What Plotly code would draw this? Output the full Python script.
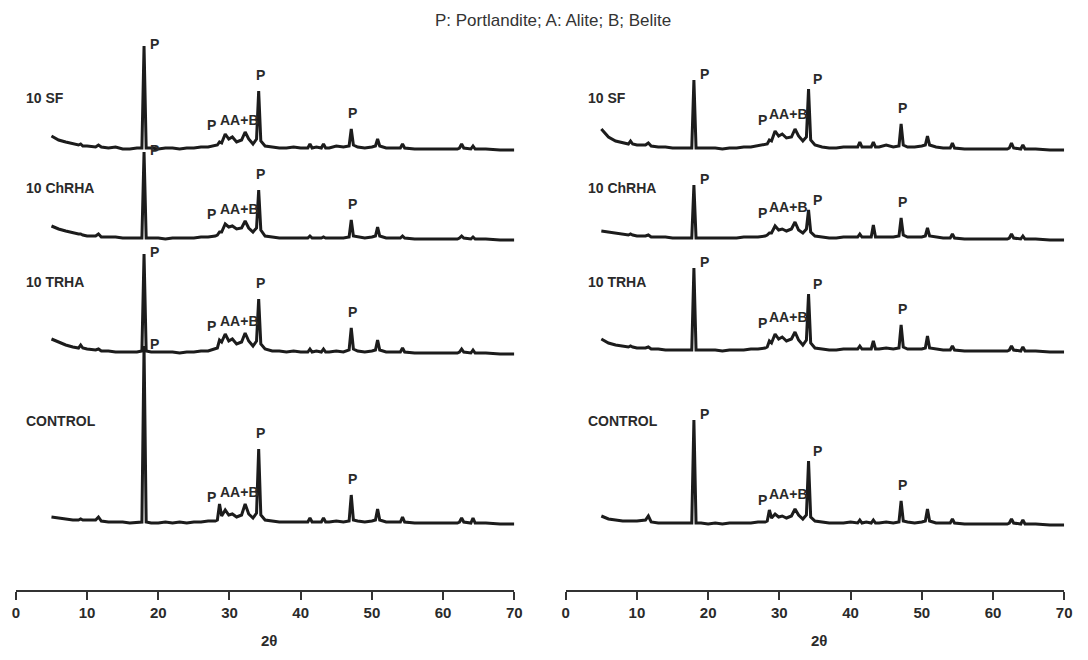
import plotly.graph_objects as go

# ---------------- data (2θ grid shared by all patterns) ----------------
TWO_THETA = [
    5.0, 6.0, 7.0, 8.0, 8.8, 9.1, 9.4, 10.0, 11.2, 11.6,
    12.0, 13.0, 14.0, 15.0, 16.0, 17.0, 17.7, 18.0, 18.3, 19.0,
    20.0, 21.0, 22.0, 23.0, 24.0, 25.0, 26.0, 27.0, 28.0, 28.3,
    28.6, 28.9, 29.4, 29.9, 30.4, 31.0, 31.7, 32.2, 32.7, 33.3,
    33.8, 34.1, 34.4, 35.0, 36.0, 37.0, 38.0, 39.0, 40.0, 41.0,
    41.3, 41.6, 42.2, 42.9, 43.2, 43.5, 44.0, 45.0, 46.0, 46.8,
    47.1, 47.4, 48.0, 49.0, 50.0, 50.5, 50.8, 51.1, 52.0, 53.0,
    54.0, 54.3, 54.6, 56.0, 58.0, 60.0, 62.0, 62.3, 62.6, 62.9,
    63.9, 64.2, 64.5, 66.0, 68.0, 70.0,
]

SAMPLES = ["10 SF", "10 ChRHA", "10 TRHA", "CONTROL"]

# left panel intensities (a.u., above each pattern's own baseline)
LEFT_SF = [
    14, 10, 8, 6, 5, 6, 4, 4, 3, 5,
    3, 2, 3, 1, 1, 2, 2, 104, 2, 2,
    1, 2, 2, 1, 2, 2, 3, 3, 4, 5,
    8, 7, 16, 11, 13, 8, 10, 18, 11, 6,
    11, 59, 9, 4, 3, 2, 2, 3, 2, 2,
    6, 2, 3, 2, 6, 2, 2, 4, 3, 4,
    21, 5, 3, 2, 3, 4, 11, 4, 2, 2,
    2, 6, 2, 1, 1, 1, 1, 2, 6, 2,
    1, 4, 1, 1, 0, 0,
]
LEFT_CHRHA = [
    14, 11, 9, 7, 6, 6, 5, 4, 4, 6,
    3, 3, 3, 2, 2, 2, 2, 88, 2, 2,
    2, 1, 2, 2, 2, 2, 3, 3, 4, 5,
    8, 8, 16, 13, 14, 11, 12, 19, 12, 8,
    12, 50, 10, 4, 3, 2, 2, 2, 2, 2,
    4, 2, 2, 2, 3, 2, 2, 2, 2, 3,
    20, 4, 3, 2, 3, 4, 13, 4, 2, 2,
    2, 4, 2, 1, 1, 1, 1, 2, 4, 2,
    1, 3, 1, 1, 0, 0,
]
LEFT_TRHA = [
    15, 12, 9, 7, 6, 9, 6, 5, 4, 5,
    3, 3, 2, 2, 2, 2, 3, 100, 3, 2,
    2, 2, 2, 1, 2, 2, 3, 3, 5, 6,
    14, 12, 20, 13, 15, 10, 12, 21, 13, 8,
    13, 55, 10, 5, 3, 3, 2, 3, 2, 2,
    5, 2, 3, 2, 5, 2, 2, 3, 2, 4,
    26, 5, 3, 2, 3, 4, 14, 4, 2, 2,
    2, 6, 2, 1, 1, 1, 1, 2, 5, 2,
    1, 4, 1, 1, 0, 0,
]
LEFT_CONTROL = [
    7, 6, 5, 4, 4, 5, 4, 4, 4, 7,
    3, 2, 2, 2, 1, 2, 2, 178, 2, 1,
    1, 2, 1, 2, 1, 2, 2, 3, 3, 4,
    20, 8, 14, 9, 10, 7, 9, 20, 10, 6,
    11, 75, 9, 4, 3, 2, 2, 2, 2, 2,
    6, 2, 2, 2, 6, 2, 2, 3, 2, 3,
    29, 4, 3, 2, 3, 4, 15, 4, 2, 2,
    2, 7, 2, 1, 1, 1, 1, 2, 6, 2,
    1, 6, 1, 1, 0, 0,
]

# right panel intensities
RIGHT_SF = [
    21, 13, 9, 7, 6, 9, 6, 5, 5, 7,
    4, 3, 3, 2, 2, 2, 2, 70, 2, 2,
    2, 2, 1, 2, 2, 3, 3, 4, 5, 6,
    10, 9, 19, 14, 16, 12, 13, 21, 14, 9,
    13, 61, 10, 5, 3, 2, 2, 3, 3, 3,
    8, 3, 3, 3, 8, 3, 3, 5, 3, 4,
    26, 5, 3, 3, 4, 5, 14, 5, 3, 2,
    2, 7, 2, 1, 1, 1, 1, 2, 7, 2,
    1, 5, 1, 1, 0, 0,
]
RIGHT_CHRHA = [
    9, 8, 7, 6, 5, 6, 5, 4, 4, 5,
    3, 3, 3, 2, 2, 2, 2, 55, 2, 2,
    2, 2, 2, 2, 2, 3, 3, 3, 4, 5,
    7, 7, 14, 10, 11, 9, 11, 18, 10, 7,
    11, 30, 8, 4, 3, 2, 2, 3, 3, 3,
    6, 3, 3, 3, 15, 3, 3, 3, 3, 4,
    22, 5, 3, 3, 3, 4, 12, 4, 3, 2,
    2, 6, 2, 1, 1, 1, 1, 2, 6, 2,
    1, 4, 1, 1, 0, 0,
]
RIGHT_TRHA = [
    13, 9, 7, 6, 5, 6, 5, 4, 4, 5,
    3, 3, 2, 2, 2, 2, 2, 84, 2, 2,
    2, 2, 1, 2, 2, 2, 3, 3, 4, 5,
    11, 9, 18, 13, 15, 11, 13, 20, 12, 7,
    12, 58, 9, 4, 3, 2, 2, 3, 3, 3,
    6, 3, 3, 3, 11, 3, 3, 4, 3, 4,
    27, 5, 3, 3, 3, 4, 16, 4, 3, 2,
    2, 6, 2, 1, 1, 1, 1, 2, 6, 2,
    1, 5, 1, 1, 0, 0,
]
RIGHT_CONTROL = [
    9, 6, 5, 4, 4, 4, 4, 4, 5, 9,
    3, 2, 2, 2, 2, 2, 2, 105, 2, 2,
    1, 2, 1, 2, 2, 2, 2, 3, 3, 4,
    15, 7, 11, 8, 9, 7, 9, 16, 10, 6,
    10, 64, 8, 4, 3, 2, 2, 2, 3, 2,
    5, 2, 3, 2, 5, 2, 2, 3, 2, 3,
    24, 4, 3, 2, 3, 4, 16, 4, 2, 2,
    2, 6, 2, 1, 1, 1, 1, 2, 6, 2,
    1, 5, 1, 1, 0, 0,
]

# vertical stacking offsets of the patterns (a.u.)
LEFT_OFFSETS = [440, 350, 236, 66]
RIGHT_OFFSETS = [440, 350, 238, 65]

X_TICKS = [0, 10, 20, 30, 40, 50, 60, 70]
TITLE = "P: Portlandite; A: Alite; B; Belite"

# ---------------- figure ----------------
W, H = 1088, 660
LINE_COLOR = "#1c1c1c"
TXT = "#2a2a2a"
FONT = "Liberation Sans"

fig = go.Figure()

panels = [
    ("x", "y", [LEFT_SF, LEFT_CHRHA, LEFT_TRHA, LEFT_CONTROL], LEFT_OFFSETS, "left"),
    ("x2", "y2", [RIGHT_SF, RIGHT_CHRHA, RIGHT_TRHA, RIGHT_CONTROL], RIGHT_OFFSETS, "right"),
]

annotations = []
label_y = [492, 402, 308, 169]

def at(series, x):
    return series[TWO_THETA.index(x)]

for xa, ya, series_list, offsets, side in panels:
    for name, ser, off, ly in zip(SAMPLES, series_list, offsets, label_y):
        fig.add_trace(go.Scatter(
            x=TWO_THETA, y=[v + off for v in ser], xaxis=xa, yaxis=ya,
            mode="lines", line=dict(color=LINE_COLOR, width=3),
            name=name, showlegend=False, hoverinfo="skip"))
        # sample label
        annotations.append(dict(
            x=1.2 if side == "left" else 2.8, y=ly, xref=xa, yref=ya,
            text="<b>%s</b>" % name, showarrow=False, xanchor="left",
            yanchor="middle", font=dict(family=FONT, size=14, color=TXT)))
        t18 = off + at(ser, 18.0)
        t34 = off + at(ser, 34.1)
        t47 = off + at(ser, 47.1)
        t32 = off + at(ser, 32.2)
        pf = dict(family=FONT, size=14, color=TXT)
        if side == "left":
            p18 = (18.5, t18 + 2, "left")
            p34 = (34.4, t34 + 16, "center")
            aab = (31.4, t32 + 12)
            psm = (27.5, t32 + 7)
        else:
            p18 = (18.6, t18 + 6, "left")
            p34 = (34.5, t34 + 10, "left")
            aab = (31.3, t32 + 15)
            psm = (27.7, t32 + 9)
        p47 = (47.3, t47 + 16, "center")
        for px, py, anc in (p18, p34, p47):
            annotations.append(dict(x=px, y=py, xref=xa, yref=ya, text="<b>P</b>",
                                    showarrow=False, xanchor=anc, yanchor="middle", font=pf))
        annotations.append(dict(x=aab[0], y=aab[1], xref=xa, yref=ya, text="<b>AA+B</b>",
                                showarrow=False, xanchor="center", yanchor="middle", font=pf))
        annotations.append(dict(x=psm[0], y=psm[1], xref=xa, yref=ya, text="<b>P</b>",
                                showarrow=False, xanchor="center", yanchor="middle", font=pf))
    # axis title 2θ
    annotations.append(dict(x=35.5, y=-0.088, xref=xa, yref="paper", text="<b>2θ</b>",
                            showarrow=False, xanchor="center", yanchor="middle",
                            font=dict(family=FONT, size=15, color=TXT)))

annotations.append(dict(x=555 / W, y=1.0, xref="paper", yref="paper", text=TITLE,
                        showarrow=False, xanchor="center", yanchor="middle",
                        font=dict(family=FONT, size=17, color="#333333")))

xaxis_common = dict(
    range=[0, 70], tickvals=X_TICKS, showgrid=False, zeroline=False,
    showline=True, linecolor="#333333", linewidth=2,
    ticks="outside", ticklen=8, tickwidth=2, tickcolor="#333333",
    tickfont=dict(family=FONT, size=15, color=TXT, weight="bold"),
    fixedrange=True,
)
yaxis_common = dict(range=[0, 570], visible=False, fixedrange=True)

fig.update_layout(
    width=W, height=H,
    margin=dict(l=0, r=0, t=20, b=70),
    paper_bgcolor="white", plot_bgcolor="white",
    xaxis=dict(domain=[12 / W, 516 / W], anchor="y", **xaxis_common),
    xaxis2=dict(domain=[568 / W, 1072 / W], anchor="y2", **xaxis_common),
    yaxis=dict(anchor="x", **yaxis_common),
    yaxis2=dict(anchor="x2", **yaxis_common),
    annotations=annotations,
)

fig.write_html("out.html")
